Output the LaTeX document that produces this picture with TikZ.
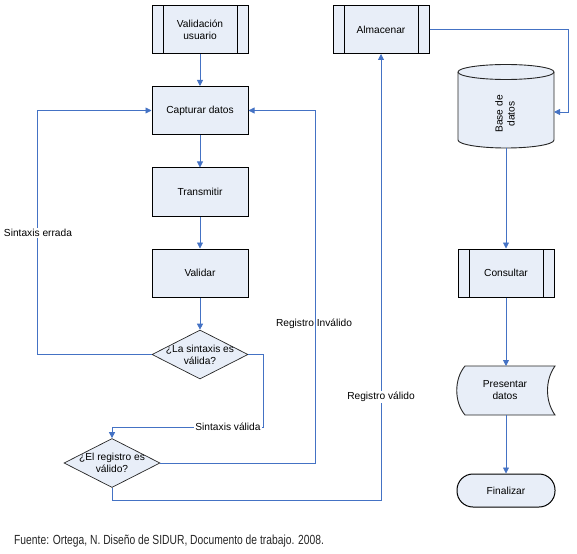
\documentclass[tikz,border=0pt]{standalone}
\usepackage{fontspec}
\setmainfont{Liberation Sans}
\newfontfamily\capfont{Liberation Sans}[FakeStretch=0.78]
\usetikzlibrary{shapes.geometric,arrows.meta}
\definecolor{boxfill}{HTML}{E8EEF8}
\definecolor{lineblue}{HTML}{4472C4}
\begin{document}
\begin{tikzpicture}[x=1pt,y=-1pt,
  font=\fontsize{10.2}{12}\selectfont,
  box/.style={draw=black, line width=1pt, fill=boxfill, minimum width=96pt, minimum height=48pt, inner sep=2pt, align=center},
  predef/.style={box, path picture={
     \draw[line width=1pt] ([xshift=11pt]path picture bounding box.north west) -- ([xshift=11pt]path picture bounding box.south west);
     \draw[line width=1pt] ([xshift=-11pt]path picture bounding box.north east) -- ([xshift=-11pt]path picture bounding box.south east);}},
  dec/.style={diamond, draw=black!85, line width=0.7pt, fill=boxfill, minimum width=96pt, minimum height=49pt, inner sep=0pt},
  holder/.style={inner sep=0pt, outer sep=0pt},
  conn/.style={draw=lineblue, line width=0.8pt},
  arr/.style={conn, -{Triangle[length=6pt,width=6pt]}},
  lbl/.style={fill=white, inner sep=1pt}]
\useasboundingbox (0,0) rectangle (577,553);

% process boxes
\node[predef] (val) at (200,29.5) {Validación\\usuario};
\node[box] (cap) at (200,110.5) {Capturar datos};
\node[box] (tra) at (200,192) {Transmitir};
\node[box] (vld) at (200,273) {Validar};
\node[dec] (d1) at (200,354.5) {};
\node[align=center] (d1t) at (d1) {¿La sintaxis es\\válida?};
\node[dec] (d2) at (112,463) {};
\node[align=center] (d2t) at (d2) {¿El registro es\\válido?};
\node[predef] (alm) at (381,29.5) {Almacenar};

% database cylinder
\node[holder, minimum width=96pt, minimum height=83pt] (db) at (506,106.5) {};
\filldraw[fill=boxfill, draw=black!85, line width=0.9pt]
  (458,72) -- (458,140) arc[start angle=180, end angle=0, x radius=48, y radius=8]
  -- (554,72) arc[start angle=0, end angle=-180, x radius=48, y radius=7.5] -- cycle;
\draw[draw=black!85, line width=0.9pt] (458,72) arc[start angle=180, end angle=0, x radius=48, y radius=7.5];
\node[rotate=90, align=center] (dbt) at (505,114) {Base de\\datos};

\node[predef] (con) at (506,273) {Consultar};

% stored data shape
\node[holder, minimum width=98pt, minimum height=49pt] (pd) at (506,390.5) {};
\filldraw[fill=boxfill, draw=black!85, line width=0.9pt]
  (465,366) -- (555,366) .. controls (545,380) and (545,401) .. (555,415)
  -- (465,415) .. controls (454,402) and (454,379) .. (465,366) -- cycle;
\node[align=center] (pdt) at (505,390.5) {Presentar\\datos};

\node[box, rounded corners=16pt, minimum width=98pt, minimum height=33pt] (fin) at (506,490.5) {Finalizar};

% coordinates
\coordinate (c1) at (37,110.5);
\coordinate (c2) at (263,427);
\coordinate (c3) at (315,110.5);
\coordinate (c4) at (381,500);
\coordinate (c5) at (568,30);
\coordinate (dbin) at (554,112);

% connectors
\draw[arr] (val.south) -- (cap.north);
\draw[arr] (cap.south) -- (tra.north);
\draw[arr] (tra.south) -- (vld.north);
\draw[arr] (vld.south) -- (d1.north);
\draw[arr] (d1.west) -| (c1) -- (cap.west);
\draw[arr] (d1.east) -| (c2) -| (d2.north);
\draw[arr] (d2.east) -| (c3) -- (cap.east);
\draw[arr] (d2.south) |- (c4) -- (alm.south);
\draw[arr] (alm.east) -| (c5) |- (dbin);
\draw[arr] (db.south) -- (con.north);
\draw[arr] (con.south) -- (pd.north);
\draw[arr] (pd.south) -- (fin.north);

% labels
\node[lbl] (l1) at (38,233) {Sintaxis errada};
\node[lbl] (l2) at (228,427) {Sintaxis válida};
\node (l3) at (314,324) {Registro Inválido};
\node[lbl] (l4) at (381,397) {Registro válido};

% caption
\node[anchor=west, inner sep=0pt, text=black!85] (cap2) at (14,541) {\capfont\fontsize{13.2}{15}\selectfont Fuente: Ortega, N. Diseño de SIDUR, Documento de trabajo. 2008.};
\end{tikzpicture}
\end{document}
